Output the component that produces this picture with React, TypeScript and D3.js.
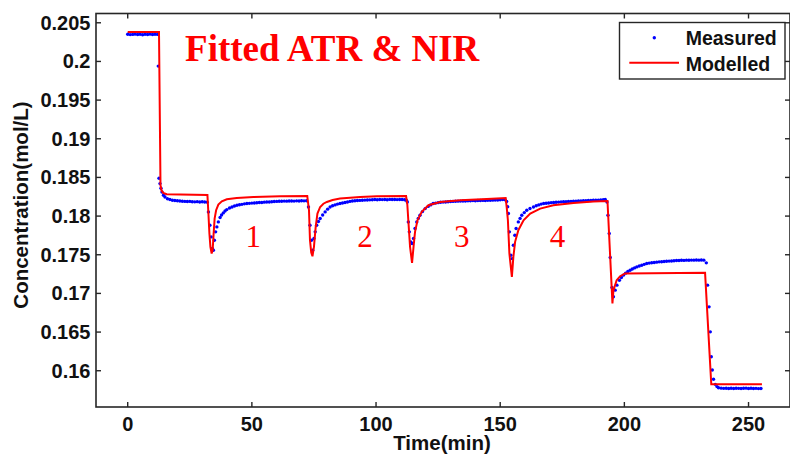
import React from "react";
import * as d3 from "d3";

// ---------- data ----------
const xTicks = [0, 50, 100, 150, 200, 250];
const yTicks = [0.16, 0.165, 0.17, 0.175, 0.18, 0.185, 0.19, 0.195, 0.2, 0.205];
const yTickLabels = ["0.16", "0.165", "0.17", "0.175", "0.18", "0.185", "0.19", "0.195", "0.2", "0.205"];

const seriesNames = ["Measured", "Modelled"];

// measured concentration [time(min), mol/L]
const measured: [number, number][] = [
  [0, 0.20352], [1, 0.20347], [2, 0.2035], [3, 0.20353], [4, 0.20348], [5, 0.20351], [6, 0.20346],
  [7, 0.20352], [8, 0.20349], [9, 0.20353], [10, 0.20348], [11, 0.20351], [12, 0.2035],
  [12.3, 0.1994], [12.6, 0.1849], [13.0, 0.1842], [13.4, 0.1836], [13.8, 0.18312], [14.4, 0.1827],
  [15, 0.18247], [16, 0.18225], [17, 0.18214], [18, 0.18205], [19, 0.18202], [20, 0.18198], [21, 0.18196],
  [22, 0.18192], [23, 0.1819], [24, 0.18188], [25, 0.1819], [26, 0.18186], [27, 0.18184], [28, 0.18187],
  [29, 0.18183], [30, 0.18185], [31, 0.18182], [32, 0.1818],
  [32.5, 0.18054], [33.1, 0.17882], [33.6, 0.17731], [34.1, 0.17581], [34.5, 0.17559], [34.9, 0.17688],
  [35.4, 0.17796], [35.9, 0.1786], [36.5, 0.17925], [37.2, 0.17981], [37.8, 0.18015], [38.5, 0.18041],
  [39.2, 0.18065], [39.9, 0.18084], [41, 0.18105], [42, 0.18118], [43, 0.1813], [44, 0.1814], [45, 0.18146],
  [46, 0.18152], [47, 0.18158], [48, 0.18162], [49, 0.18165], [50, 0.18168], [51, 0.1817], [52, 0.18172],
  [53, 0.18175], [54, 0.18176], [55, 0.1818], [56, 0.18182], [57, 0.18183], [58, 0.18186], [59, 0.18188],
  [60, 0.1819], [61, 0.18192], [62, 0.18192], [63, 0.18194], [64, 0.18193], [65, 0.18195], [66, 0.18196],
  [67, 0.18194], [68, 0.18197], [69, 0.18196], [70, 0.18198], [71, 0.18197], [72, 0.18198],
  [72.8, 0.18118], [73.4, 0.17882], [74.0, 0.17688], [74.5, 0.17559], [75.0, 0.1771], [75.5, 0.17796],
  [76.1, 0.17882], [76.8, 0.1793], [77.5, 0.17968], [78.5, 0.18015], [79.5, 0.18054], [80.5, 0.1809],
  [81.5, 0.18118], [82.5, 0.18133], [83.5, 0.18145], [84.5, 0.18155], [85.5, 0.18162], [86.5, 0.1817],
  [87.5, 0.18176], [88.5, 0.18183], [89.5, 0.1819], [90.5, 0.18196], [91.5, 0.18198], [92.5, 0.18201],
  [93.5, 0.18203], [94.5, 0.18205], [95.5, 0.18207], [96.5, 0.18208], [97.5, 0.1821], [98.5, 0.18212],
  [99.5, 0.18214], [100.5, 0.18212], [101.5, 0.18215], [102.5, 0.18213], [103.5, 0.18215], [104.5, 0.18212],
  [105.5, 0.18216], [106.5, 0.18214], [107.5, 0.18215], [108.5, 0.18213], [109.5, 0.18215], [110.5, 0.18214],
  [111.5, 0.18212], [112.2, 0.18205],
  [112.6, 0.18183], [113.0, 0.17925], [113.4, 0.17796], [114.0, 0.17667], [114.5, 0.17645], [115.1, 0.1771],
  [115.7, 0.1784], [116.4, 0.17925], [117.0, 0.1797], [117.7, 0.18011], [118.7, 0.18058], [119.8, 0.18097],
  [121, 0.18125], [122, 0.18145], [123, 0.18162], [124, 0.18168], [125, 0.18174], [126, 0.18178],
  [127, 0.18181], [128, 0.18183], [129, 0.18185], [130, 0.18188], [131, 0.1819], [132, 0.18192],
  [133, 0.18193], [134, 0.18194], [135, 0.18195], [136, 0.18196], [137, 0.18197], [138, 0.18199],
  [139, 0.182], [140, 0.18199], [141, 0.18201], [142, 0.18202], [143, 0.18203], [144, 0.18202],
  [145, 0.18204], [146, 0.18204], [147, 0.18206], [148, 0.18207], [149, 0.18209], [150, 0.18211],
  [151, 0.18213], [152, 0.1821], [152.6, 0.1819],
  [153.0, 0.1812], [153.3, 0.18033], [153.7, 0.17796], [154.3, 0.17494], [154.8, 0.1745], [155.3, 0.17623],
  [155.9, 0.17753], [156.4, 0.1784], [157.3, 0.17925], [158.0, 0.1797], [158.7, 0.18011], [159.7, 0.18045],
  [160.7, 0.18076], [162, 0.18098], [163.4, 0.18118], [164.5, 0.18133], [165.5, 0.18145], [166.5, 0.18155],
  [167.5, 0.18162], [168.5, 0.18166], [169.5, 0.1817], [170.5, 0.18174], [171.5, 0.18176], [172.5, 0.18179],
  [173.5, 0.18181], [174.5, 0.18184], [175.5, 0.18185], [176.5, 0.18187], [177.5, 0.18189], [178.5, 0.1819],
  [179.5, 0.18192], [180.5, 0.18194], [181.5, 0.18195], [182.5, 0.18197], [183.5, 0.18198], [184.5, 0.18199],
  [185.5, 0.18201], [186.5, 0.18202], [187.5, 0.18204], [188.5, 0.18206], [189.5, 0.18207], [190.5, 0.1821],
  [191.5, 0.18212], [192.3, 0.18214],
  [193.0, 0.18183], [193.4, 0.18011], [193.9, 0.17775], [194.3, 0.17464], [195.0, 0.17077], [195.6, 0.16956],
  [196.3, 0.17042], [197.0, 0.17107], [198.0, 0.17171], [198.8, 0.17205], [199.6, 0.17236], [200.5, 0.17262],
  [201.4, 0.17283], [202.3, 0.173], [203.2, 0.17315], [204.1, 0.1733], [205.0, 0.17343], [206, 0.17354],
  [207, 0.17365], [208, 0.17376], [209, 0.17387], [210, 0.17392], [211, 0.17396], [212, 0.174],
  [213, 0.17404], [214, 0.17408], [215, 0.1741], [216, 0.17413], [217, 0.17415], [218, 0.17418],
  [219, 0.1742], [220, 0.17423], [221, 0.17426], [222, 0.17425], [223, 0.17428], [224, 0.17427],
  [225, 0.1743], [226, 0.17428], [227, 0.17431], [228, 0.1743], [229, 0.17432], [230, 0.1743],
  [231, 0.17433], [232, 0.1743],
  [233.0, 0.17395], [233.5, 0.17107], [234.1, 0.16826], [234.6, 0.16503], [235.0, 0.16181], [235.4, 0.16009],
  [235.9, 0.15889], [236.6, 0.15824], [237.3, 0.15795], [237.9, 0.1578], [239, 0.15775], [240, 0.15772],
  [241, 0.15774], [242, 0.1577], [243, 0.15773], [244, 0.15771], [245, 0.15774], [246, 0.15772],
  [247, 0.1577], [248, 0.15773], [249, 0.15775], [250, 0.15771], [251, 0.15773], [252, 0.1577],
  [253, 0.15772], [254, 0.15769], [255, 0.15771],
];

// modelled concentration [time(min), mol/L]
const modelled: [number, number][] = [
  [0, 0.2038], [12.6, 0.2038], [13.2, 0.184], [13.6, 0.18334], [14.3, 0.183], [15.7, 0.18282], [32.1, 0.18272],
  [32.5, 0.18033], [32.9, 0.17775], [33.3, 0.17602], [33.8, 0.17516], [34.2, 0.17559], [34.6, 0.17775],
  [35.0, 0.17968], [35.6, 0.18076], [36.5, 0.18149], [37.9, 0.18192], [39.9, 0.18218], [43.9, 0.18234],
  [50.6, 0.18247], [61.4, 0.18256], [72.3, 0.1826],
  [73.0, 0.18076], [73.4, 0.17688], [73.9, 0.1753], [74.4, 0.17481], [75.0, 0.17602], [75.7, 0.1786],
  [76.4, 0.18033], [77.5, 0.18118], [78.8, 0.1816], [80.2, 0.18183], [82.5, 0.18208], [85.5, 0.18226],
  [93.6, 0.18247], [100.3, 0.18256], [112.1, 0.1826],
  [112.6, 0.1815], [113.0, 0.17946], [113.7, 0.17602], [114.5, 0.17395], [115.1, 0.17602], [115.7, 0.17796],
  [116.7, 0.17946], [118.4, 0.18054], [121.1, 0.1814], [125.8, 0.18183], [133.9, 0.18204], [144.6, 0.18222],
  [152.2, 0.18234],
  [152.6, 0.1812], [153.1, 0.17946], [153.7, 0.17516], [154.7, 0.17214], [155.3, 0.17472], [156.0, 0.17667],
  [157.3, 0.17817], [159.4, 0.17946], [162.1, 0.18033], [166.1, 0.18097], [171.4, 0.1814], [179.5, 0.1817],
  [187.6, 0.18188], [193.2, 0.18196],
  [195.2, 0.1687], [195.6, 0.17042], [196.9, 0.17171], [198.3, 0.17223], [200.3, 0.17258], [232.5, 0.17266],
  [235.0, 0.15824], [255.4, 0.15824],
];

// step annotations
const stepLabels = ["1", "2", "3", "4"];
const stepLabelTimes = [50.6, 95.6, 134.5, 173.1];
const stepLabelConc = 0.176;

const titleText = "Fitted ATR & NIR";
const xLabel = "Time(min)";
const yLabel = "Concentration(mol/L)";

// ---------- layout ----------
const W = 790;
const H = 458;
const left = 96;
const right = 790;
const top = 13.5;
const bottom = 407;

export default function App() {
  const x = d3.scaleLinear().domain([-12.77, 266.7]).range([left, right]);
  const y = d3.scaleLinear().domain([0.15531, 0.2062]).range([bottom, top]);
  const line = d3
    .line<[number, number]>()
    .x((d) => x(d[0]))
    .y((d) => y(d[1]));

  const sans = "'Liberation Sans', Arial, Helvetica, sans-serif";
  const serif = "'Liberation Serif', 'Times New Roman', serif";
  const axisColor = "#262626";
  const tickLen = 5;

  return (
    <svg
      width={W}
      height={H}
      style={{ position: "absolute", left: 0, top: 0, background: "#fff" }}
    >
      <rect x={0} y={0} width={W} height={H} fill="#fff" />
      <defs>
        <clipPath id="plotclip">
          <rect x={left} y={top} width={right - left} height={bottom - top} />
        </clipPath>
      </defs>

      {/* axes box */}
      <rect
        x={left}
        y={top}
        width={right - left}
        height={bottom - top}
        fill="none"
        stroke={axisColor}
        strokeWidth={1.6}
      />

      {/* x ticks */}
      {xTicks.map((t) => (
        <g key={"xt" + t}>
          <line x1={x(t)} x2={x(t)} y1={bottom} y2={bottom - tickLen} stroke={axisColor} strokeWidth={1.4} />
          <line x1={x(t)} x2={x(t)} y1={top} y2={top + tickLen} stroke={axisColor} strokeWidth={1.4} />
          <text
            x={x(t)}
            y={431}
            textAnchor="middle"
            fontFamily={sans}
            fontWeight="bold"
            fontSize={20}
            fill="#111"
          >
            {t}
          </text>
        </g>
      ))}

      {/* y ticks */}
      {yTicks.map((v, i) => (
        <g key={"yt" + i}>
          <line x1={left} x2={left + tickLen} y1={y(v)} y2={y(v)} stroke={axisColor} strokeWidth={1.4} />
          <line x1={right} x2={right - tickLen} y1={y(v)} y2={y(v)} stroke={axisColor} strokeWidth={1.4} />
          <text
            x={90.5}
            y={y(v) + 7}
            textAnchor="end"
            fontFamily={sans}
            fontWeight="bold"
            fontSize={20}
            fill="#111"
          >
            {yTickLabels[i]}
          </text>
        </g>
      ))}

      {/* axis labels */}
      <text
        x={442}
        y={450}
        textAnchor="middle"
        fontFamily={sans}
        fontWeight="bold"
        fontSize={20.5}
        fill="#111"
      >
        {xLabel}
      </text>
      <text
        transform={`translate(28, 205) rotate(-90)`}
        textAnchor="middle"
        fontFamily={sans}
        fontWeight="bold"
        fontSize={20.5}
        fill="#111"
      >
        {yLabel}
      </text>

      {/* data */}
      <g clipPath="url(#plotclip)">
        {measured.map((d, i) => (
          <circle key={"m" + i} cx={x(d[0])} cy={y(d[1])} r={1.7} fill="#0000ff" />
        ))}
        <path d={line(modelled) || ""} fill="none" stroke="#ff0000" strokeWidth={2} />
      </g>

      {/* title */}
      <text
        x={x(23.1)}
        y={y(0.2001)}
        fontFamily={serif}
        fontWeight="bold"
        fontSize={37}
        fill="#ff0000"
      >
        {titleText}
      </text>

      {/* step labels */}
      {stepLabels.map((s, i) => (
        <text
          key={"s" + i}
          x={x(stepLabelTimes[i])}
          y={y(stepLabelConc)}
          textAnchor="middle"
          fontFamily={serif}
          fontSize={31}
          fill="#ff0000"
        >
          {s}
        </text>
      ))}

      {/* legend */}
      <g>
        <rect x={619.5} y={22.5} width={165.5} height={56.5} fill="#fff" stroke={axisColor} strokeWidth={1.4} />
        <circle cx={654.3} cy={37.7} r={1.7} fill="#0000ff" />
        <text x={685.7} y={45} fontFamily={sans} fontWeight="bold" fontSize={19.5} fill="#111">
          {seriesNames[0]}
        </text>
        <line x1={629.3} x2={679} y1={62.7} y2={62.7} stroke="#ff0000" strokeWidth={2} />
        <text x={685.7} y={70.5} fontFamily={sans} fontWeight="bold" fontSize={19.5} fill="#111">
          {seriesNames[1]}
        </text>
      </g>
    </svg>
  );
}
